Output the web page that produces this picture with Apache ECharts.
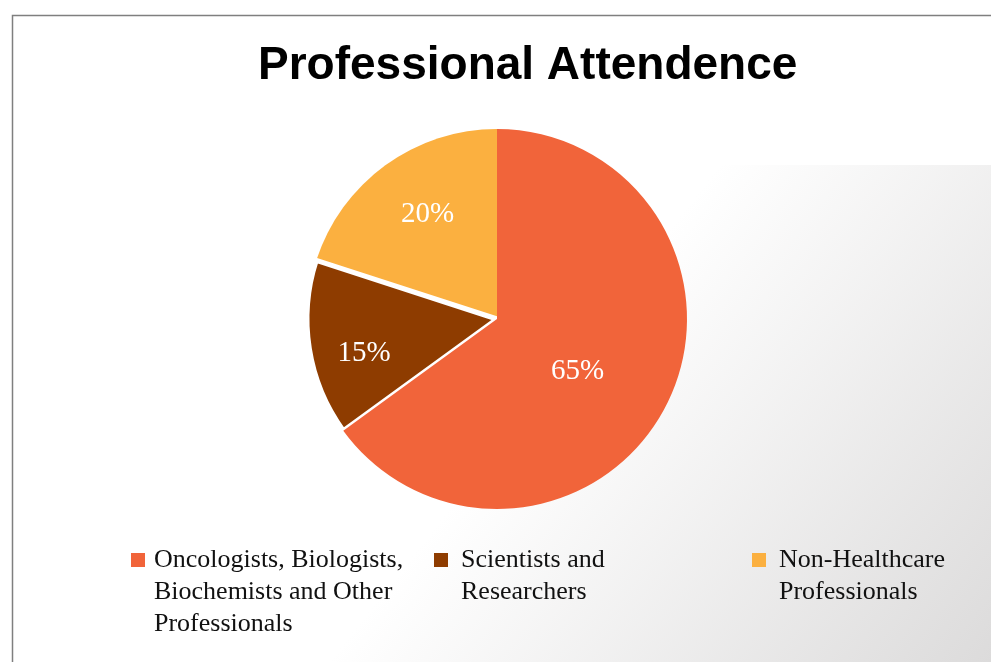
<!DOCTYPE html>
<html>
<head>
    <meta charset="utf-8">
    <title>Professional Attendence</title>
    <script src="https://cdn.jsdelivr.net/npm/echarts@6/dist/echarts.min.js"></script>
    <style>
        html, body { margin: 0; padding: 0; background: #ffffff; }
        #chart { width: 991px; height: 662px; }
    </style>
</head>
<body>
<div id="chart"></div>
<script>
    // data (clockwise from 12 o'clock)
    const chartTitle = 'Professional Attendence';
    const categories = [
        'Oncologists, Biologists,\nBiochemists and Other\nProfessionals',
        'Scientists and\nResearchers',
        'Non-Healthcare\nProfessionals'
    ];
    const shares = [65, 15, 20];
    const colors = ['#F1643A', '#8E3C00', '#FBB040'];

    // style: label placement (fraction of radius, turn from mid-angle in degrees)
    const labelRadius = [0.5, 0.72, 0.67];
    const labelTurn = [5, -4.5, 3];
    const pieCenter = [497, 319];
    const pieRadius = 190;

    const serif = '"Liberation Serif", "DejaVu Serif", serif';

    // one legend per item, so each can sit where the reference has it
    const legendLeft = [131, 434, 752];
    const legendTextGap = [4, 8, 8];
    function legendFor(i) {
        const lines = categories[i].split('\n').length;
        // tall empty box so the square lines up with the first text line
        const h = 14 + (lines - 1) * 32;
        return {
            data: [categories[i]],
            left: legendLeft[i],
            top: 544,
            padding: 0,
            itemWidth: 14,
            itemHeight: h,
            icon: 'path://M0,0 L14,0 L14,14 L0,14 Z M0,' + h,
            itemStyle: { borderWidth: 0 },
            selectedMode: false,
            textStyle: {
                fontFamily: serif,
                fontSize: 26,
                lineHeight: 32,
                color: '#111111',
                padding: [0, 0, 0, legendTextGap[i]]
            }
        };
    }

    // drawn counter-clockwise in reverse so the brown slice's white edge
    // overlaps the yellow slice the way the reference does
    const order = categories.map((_, i) => i).reverse();
    let cum = 0;
    const midAngle = shares.map(v => { const m = (cum + v / 2) / 100 * 360; cum += v; return m; });

    const chart = echarts.init(document.getElementById('chart'), null, { renderer: 'canvas' });

    const option = {
        animation: false,
        backgroundColor: '#ffffff',
        graphic: [
            {
                type: 'rect',
                z: -10,
                silent: true,
                shape: { x: 12, y: 165, width: 979, height: 497 },
                style: {
                    fill: {
                        type: 'linear',
                        global: true,
                        x: 720, y: 165, x2: 1129, y2: 487,
                        colorStops: [
                            { offset: 0, color: '#ffffff' },
                            { offset: 1, color: '#dcdbdb' }
                        ]
                    }
                }
            },
            {
                type: 'polyline',
                z: -5,
                silent: true,
                shape: { points: [[12.5, 662], [12.5, 15.5], [991, 15.5]] },
                style: { fill: null, stroke: '#7f7f7f', lineWidth: 1.5 }
            }
        ],
        title: {
            text: chartTitle,
            left: 258,
            top: 43,
            padding: 0,
            textStyle: {
                fontFamily: '"Liberation Sans", Arial, sans-serif',
                fontWeight: 'bold',
                fontSize: 46,
                color: '#000000'
            }
        },
        legend: categories.map((_, i) => legendFor(i)),
        series: [{
            type: 'pie',
            center: pieCenter,
            radius: pieRadius,
            startAngle: 90,
            clockwise: false,
            silent: true,
            label: {
                show: true,
                position: 'inside',
                formatter: '{c}%',
                fontFamily: serif,
                fontSize: 29,
                color: '#ffffff'
            },
            labelLine: { show: false },
            labelLayout: function (p) {
                const i = order[p.dataIndex];
                const a = (midAngle[i] + labelTurn[i]) * Math.PI / 180;
                const r = labelRadius[i] * pieRadius;
                return {
                    x: pieCenter[0] + r * Math.sin(a),
                    y: pieCenter[1] - r * Math.cos(a) + 2,
                    align: 'center',
                    verticalAlign: 'middle'
                };
            },
            data: order.map(i => ({
                name: categories[i],
                value: shares[i],
                itemStyle: i === 1
                    ? { color: colors[i], borderColor: '#ffffff', borderWidth: 5 }
                    : { color: colors[i], borderWidth: 0 }
            }))
        }]
    };

    chart.setOption(option);
</script>
</body>
</html>
